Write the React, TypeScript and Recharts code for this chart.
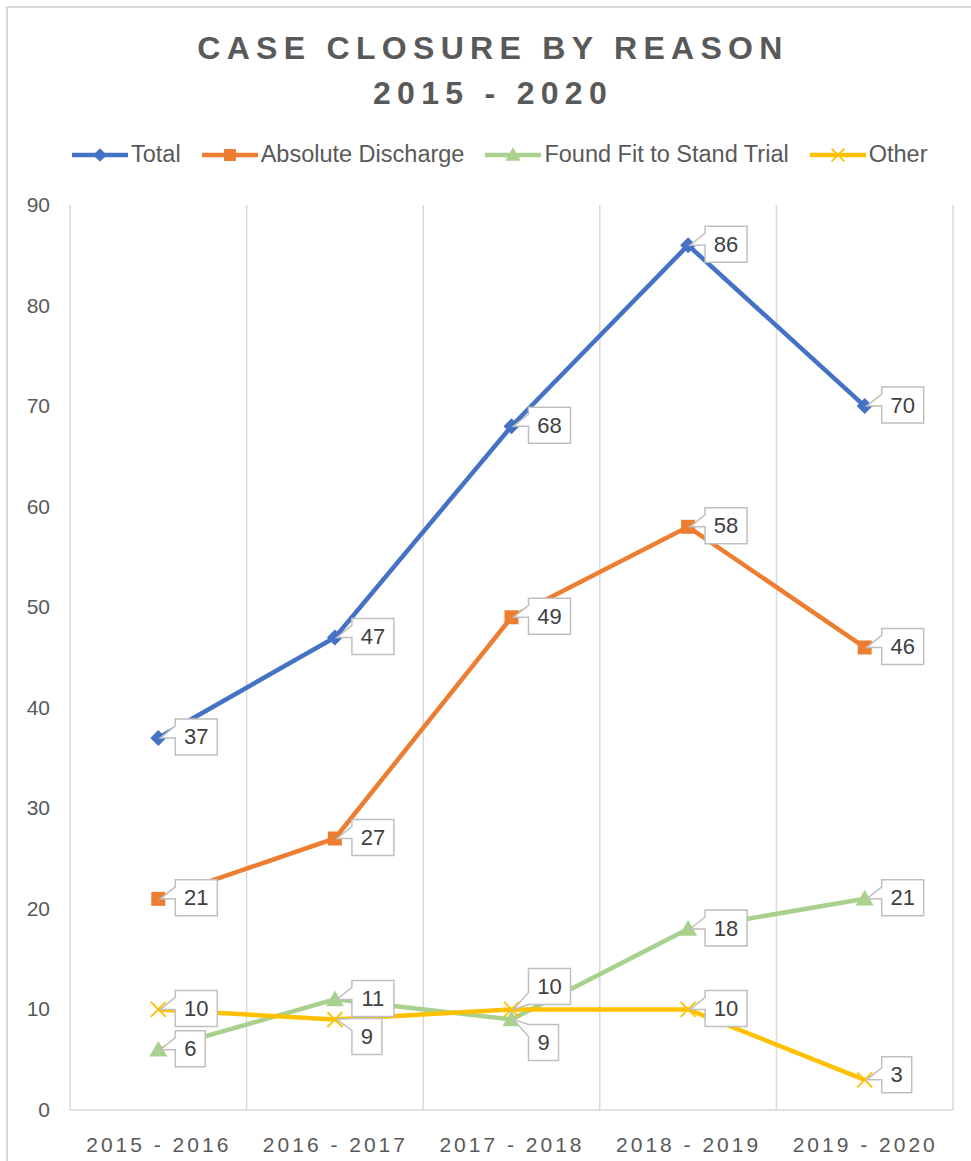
import React from 'react';
import { LineChart, Line, XAxis, YAxis, CartesianGrid, LabelList } from 'recharts';

const categories = ['2015 - 2016', '2016 - 2017', '2017 - 2018', '2018 - 2019', '2019 - 2020'];
const total = [37, 47, 68, 86, 70];
const absoluteDischarge = [21, 27, 49, 58, 46];
const foundFit = [6, 11, 9, 18, 21];
const other = [10, 9, 10, 10, 3];
const yTicks = [0, 10, 20, 30, 40, 50, 60, 70, 80, 90];

const data = categories.map((c, i) => ({
  category: c,
  total: total[i],
  absoluteDischarge: absoluteDischarge[i],
  foundFit: foundFit[i],
  other: other[i],
}));

const FONT = '"Liberation Sans", Arial, sans-serif';
const TEXT = '#595959';
const GRID = '#D9D9D9';

const CHART_W = 971;
const CHART_H = 1161;
const MARGIN = { top: 205, right: 18, left: 10, bottom: 16 };
const Y_W = 60;
const PLOT_W = CHART_W - MARGIN.left - MARGIN.right - Y_W;
const HALF_BAND = PLOT_W / categories.length / 2;

const COLORS: Record<string, string> = {
  total: '#4472C4',
  absoluteDischarge: '#ED7D31',
  foundFit: '#A9D18E',
  other: '#FFC000',
};

const NAMES: Record<string, string> = {
  total: 'Total',
  absoluteDischarge: 'Absolute Discharge',
  foundFit: 'Found Fit to Stand Trial',
  other: 'Other',
};

// vertical shift of callout boxes (style, not data)
const calloutShift: Record<string, number[]> = {
  total: [0, 0, 0, 0, 0],
  absoluteDischarge: [0, 0, 0, 0, 0],
  foundFit: [0, 0, 24, 0, 0],
  other: [0, 18, -22, 0, -4],
};

function Marker({ kind, cx, cy, small }: { kind: string; cx: number; cy: number; small?: boolean }) {
  const c = COLORS[kind];
  const k = small ? 0.85 : 1;
  if (kind === 'total') {
    const r = 8 * k;
    return <path d={`M${cx},${cy - r}L${cx + r},${cy}L${cx},${cy + r}L${cx - r},${cy}Z`} fill={c} />;
  }
  if (kind === 'absoluteDischarge') {
    const r = 7 * k;
    return <rect x={cx - r} y={cy - r} width={2 * r} height={2 * r} fill={c} />;
  }
  if (kind === 'foundFit') {
    const r = 9 * k;
    return <path d={`M${cx},${cy - r}L${cx + r},${cy + r * 0.75}L${cx - r},${cy + r * 0.75}Z`} fill={c} />;
  }
  const r = 7.5 * k;
  return (
    <g stroke={c} strokeWidth={1.8}>
      <line x1={cx - r} y1={cy - r} x2={cx + r} y2={cy + r} />
      <line x1={cx - r} y1={cy + r} x2={cx + r} y2={cy - r} />
    </g>
  );
}

const makeDot = (kind: string) => (p: any) => (
  <Marker key={`${kind}-${p.index}`} kind={kind} cx={p.cx} cy={p.cy} />
);

const makeCallout = (kind: string) => (p: any) => {
  const { x, y, value, index } = p;
  if (x == null || y == null) return null;
  const s = String(value);
  const w = s.length > 1 ? 42 : 30;
  const h = 36;
  const shift = calloutShift[kind][index] || 0;
  const cy = y + shift - 1;
  const L = x + 17;
  const R = L + w;
  const T = cy - h / 2;
  const B = cy + h / 2;
  const y1 = Math.min(Math.max(y - 12, T), B - 12);
  const y2 = y1 + 12;
  const d = `M${L},${T}H${R}V${B}H${L}V${y2}L${x + 2},${y}L${L},${y1}Z`;
  return (
    <g key={`cl-${kind}-${index}`}>
      <path d={d} fill="#FFFFFF" stroke="#BFBFBF" strokeWidth={1.5} />
      <text
        x={(L + R) / 2}
        y={cy + 7.5}
        textAnchor="middle"
        fontSize={22}
        fontFamily={FONT}
        fill="#404040"
      >
        {s}
      </text>
    </g>
  );
};

const XTick = (p: any) => (
  <text
    x={p.x + 0.5}
    y={p.y + 34}
    textAnchor="middle"
    fontSize={21}
    fontFamily={FONT}
    fill={TEXT}
    letterSpacing={3}
  >
    {p.payload.value}
  </text>
);

const YTick = (p: any) => (
  <text x={p.x - 12} y={p.y + 7} textAnchor="end" fontSize={21} fontFamily={FONT} fill={TEXT}>
    {p.payload.value}
  </text>
);

const LegendBlock = () => {
  const keys = ['total', 'absoluteDischarge', 'foundFit', 'other'];
  return (
    <div
      style={{
        position: 'absolute',
        top: 141,
        left: 72,
        display: 'flex',
        alignItems: 'center',
        gap: 21,
        fontFamily: FONT,
        fontSize: 23.5,
        color: TEXT,
        whiteSpace: 'nowrap',
      }}
    >
      {keys.map((k) => (
        <div key={k} style={{ display: 'flex', alignItems: 'center' }}>
          <svg width={56} height={20} style={{ marginRight: 3 }}>
            <line x1={0} y1={10} x2={56} y2={10} stroke={COLORS[k]} strokeWidth={4.5} />
            <Marker kind={k} cx={28} cy={10} small />
          </svg>
          <span>{NAMES[k]}</span>
        </div>
      ))}
    </div>
  );
};

export default function App() {
  const keys = ['total', 'absoluteDischarge', 'foundFit', 'other'];
  return (
    <div
      style={{
        position: 'absolute',
        left: 0,
        top: 0,
        width: CHART_W,
        height: CHART_H,
        overflow: 'hidden',
        background: '#FFFFFF',
        fontFamily: FONT,
      }}
    >
      <div
        style={{
          position: 'absolute',
          left: 6,
          top: 6,
          width: 990,
          height: 1180,
          border: `2px solid ${GRID}`,
          boxSizing: 'border-box',
        }}
      />
      <div
        style={{
          position: 'absolute',
          left: 0,
          top: 26,
          width: 986,
          textAlign: 'center',
          fontSize: 32,
          fontWeight: 'bold',
          letterSpacing: 6.3,
          lineHeight: '45px',
          color: TEXT,
        }}
      >
        <div>CASE CLOSURE BY REASON</div>
        <div>2015 - 2020</div>
      </div>
      <LegendBlock />
      <div style={{ position: 'absolute', left: 0, top: 0 }}>
        <LineChart width={CHART_W} height={CHART_H} data={data} margin={MARGIN}>
          <CartesianGrid
            horizontal={false}
            stroke={GRID}
            strokeWidth={1.5}
            verticalCoordinatesGenerator={(props: any) => {
              const o = props.offset;
              return [0, 1, 2, 3, 4, 5].map((i) => o.left + (i * o.width) / 5);
            }}
          />
          <XAxis
            dataKey="category"
            height={35}
            axisLine={{ stroke: GRID, strokeWidth: 1.5 }}
            tickLine={false}
            tick={<XTick />}
            interval={0}
            padding={{ left: HALF_BAND, right: HALF_BAND }}
          />
          <YAxis
            width={Y_W}
            domain={[0, 90]}
            ticks={yTicks}
            axisLine={false}
            tickLine={false}
            tick={<YTick />}
            interval={0}
          />
          {keys.map((k) => (
            <Line
              key={k}
              type="linear"
              dataKey={k}
              name={NAMES[k]}
              stroke={COLORS[k]}
              strokeWidth={4.5}
              dot={makeDot(k)}
              activeDot={false}
              isAnimationActive={false}
            >
              <LabelList dataKey={k} content={makeCallout(k)} />
            </Line>
          ))}
        </LineChart>
      </div>
    </div>
  );
}
